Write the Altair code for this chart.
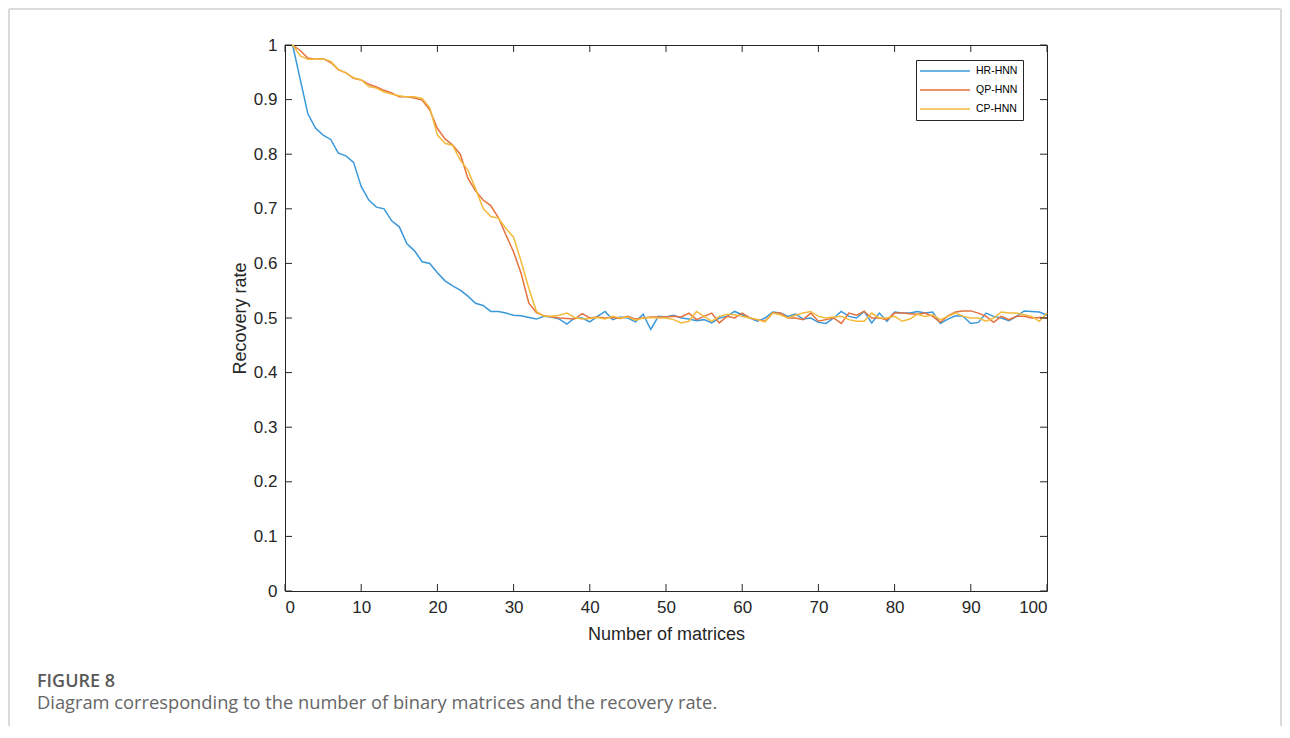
import altair as alt
import pandas as pd

# ---------------- data ----------------
x_vals = list(range(1, 101))

hr_hnn = [
    1.000, 0.937, 0.874, 0.848, 0.835, 0.827, 0.802, 0.797, 0.785, 0.741,
    0.716, 0.703, 0.700, 0.678, 0.667, 0.636, 0.623, 0.603, 0.600, 0.583,
    0.568, 0.559, 0.551, 0.540, 0.527, 0.523, 0.512, 0.512, 0.509, 0.505,
    0.504, 0.501, 0.498,
    0.503, 0.502, 0.498, 0.489, 0.500, 0.500, 0.493, 0.503, 0.512, 0.497,
    0.502, 0.500, 0.493, 0.507, 0.479, 0.503,
    0.502, 0.505, 0.500, 0.498, 0.495, 0.497, 0.491, 0.500, 0.503, 0.512,
    0.506, 0.500, 0.494, 0.500, 0.511, 0.509, 0.503,
    0.507, 0.498, 0.500, 0.492, 0.490, 0.500, 0.512, 0.503, 0.500, 0.512,
    0.491, 0.509, 0.494, 0.511, 0.509, 0.509,
    0.512, 0.509, 0.511, 0.490, 0.498, 0.504, 0.503, 0.490, 0.492, 0.509,
    0.503, 0.500, 0.495, 0.503, 0.513, 0.512, 0.511, 0.505,
]

qp_hnn = [
    1.000, 0.990, 0.976, 0.974, 0.975, 0.968, 0.955, 0.949, 0.939, 0.936,
    0.928, 0.923, 0.917, 0.912, 0.905, 0.905, 0.903, 0.899, 0.881, 0.847,
    0.828, 0.817, 0.800, 0.756, 0.733, 0.716, 0.706, 0.684, 0.652, 0.621,
    0.581, 0.527, 0.510,
    0.504, 0.502, 0.500, 0.499, 0.498, 0.508, 0.500, 0.502, 0.500, 0.501,
    0.499, 0.503, 0.498, 0.500, 0.502, 0.502,
    0.502, 0.503, 0.502, 0.509, 0.497, 0.503, 0.509, 0.491, 0.503, 0.500,
    0.509, 0.500, 0.497, 0.494, 0.509, 0.509, 0.500,
    0.500, 0.497, 0.509, 0.494, 0.497, 0.500, 0.490, 0.509, 0.505, 0.512,
    0.500, 0.500, 0.497, 0.509, 0.509, 0.508,
    0.507, 0.509, 0.503, 0.492, 0.504, 0.511, 0.513, 0.513, 0.509, 0.503,
    0.492, 0.503, 0.497, 0.503, 0.503, 0.500, 0.501, 0.500,
]

cp_hnn = [
    1.000, 0.980, 0.974, 0.974, 0.975, 0.970, 0.955, 0.949, 0.940, 0.936,
    0.924, 0.921, 0.914, 0.910, 0.907, 0.905, 0.905, 0.902, 0.885, 0.835,
    0.820, 0.816, 0.789, 0.771, 0.737, 0.701, 0.686, 0.683, 0.664, 0.648,
    0.603, 0.554, 0.512,
    0.503, 0.503, 0.505, 0.509, 0.501, 0.498, 0.499, 0.501, 0.498, 0.503,
    0.500, 0.502, 0.496, 0.500, 0.501, 0.500,
    0.500, 0.497, 0.491, 0.494, 0.512, 0.503, 0.494, 0.503, 0.507, 0.506,
    0.503, 0.500, 0.497, 0.493, 0.509, 0.506, 0.500,
    0.505, 0.509, 0.512, 0.503, 0.500, 0.502, 0.503, 0.497, 0.494, 0.494,
    0.509, 0.500, 0.500, 0.503, 0.494, 0.498,
    0.507, 0.503, 0.506, 0.497, 0.503, 0.509, 0.503, 0.500, 0.500, 0.494,
    0.500, 0.511, 0.509, 0.509, 0.506, 0.503, 0.494, 0.509,
]

series_names = ["HR-HNN", "QP-HNN", "CP-HNN"]
series_colors = ["#3A98DA", "#E5713C", "#F3BA3C"]

x_ticks = [0, 10, 20, 30, 40, 50, 60, 70, 80, 90, 100]
y_ticks = [0, 0.1, 0.2, 0.3, 0.4, 0.5, 0.6, 0.7, 0.8, 0.9, 1.0]

x_title = "Number of matrices"
y_title = "Recovery rate"
fig_label = "FIGURE 8"
fig_caption = "Diagram corresponding to the number of binary matrices and the recovery rate."

# ---------------- tables ----------------
rows = []
for name, vals in zip(series_names, [hr_hnn, qp_hnn, cp_hnn]):
    for xv, yv in zip(x_vals, vals):
        rows.append({"x": xv, "y": yv, "series": name, "order": series_names.index(name)})
df = pd.DataFrame(rows)
df_xt = pd.DataFrame({"v": x_ticks})
df_yt = pd.DataFrame({"v": y_ticks})

W, H = 762, 546
AX_FONT = "Liberation Sans"
AX_COLOR = "#262626"

sx = alt.Scale(domain=[0, 100], nice=False, zero=False)
sy = alt.Scale(domain=[0, 1], nice=False, zero=False)

ax_x = alt.Axis(values=x_ticks, format="d", title=x_title, grid=False, ticks=False,
                domain=False, labelPadding=8, titlePadding=10)
ax_y = alt.Axis(values=y_ticks, format=".1~f", title=y_title, grid=False, ticks=False,
                domain=False, labelPadding=8, titlePadding=4)

NBSP = "\u00a0"
lines = alt.Chart(df).mark_line(strokeWidth=1.5).encode(
    x=alt.X("x:Q", scale=sx, axis=ax_x),
    y=alt.Y("y:Q", scale=sy, axis=ax_y),
    color=alt.Color(
        "series:N",
        scale=alt.Scale(domain=series_names, range=series_colors),
        legend=alt.Legend(
            orient="none", legendX=631, legendY=15, title=None,
            symbolType="M-1.4,0H8.6", symbolSize=100, symbolStrokeWidth=1.5,
            labelFont=AX_FONT, labelFontSize=10.5, labelColor="#000000",
            labelExpr="datum.label + '" + NBSP * 3 + "'",
            strokeColor=AX_COLOR, fillColor="white", padding=5,
            rowPadding=7, labelOffset=43,
        ),
    ),
    detail="series:N",
    order="order:Q",
)

TL = 7
xt_bottom = alt.Chart(df_xt).mark_rule(color=AX_COLOR, strokeWidth=1).encode(
    x=alt.X("v:Q", scale=sx, axis=ax_x), y=alt.value(H), y2=alt.value(H - TL))
xt_top = alt.Chart(df_xt).mark_rule(color=AX_COLOR, strokeWidth=1).encode(
    x=alt.X("v:Q", scale=sx, axis=ax_x), y=alt.value(0), y2=alt.value(TL))
yt_left = alt.Chart(df_yt).mark_rule(color=AX_COLOR, strokeWidth=1).encode(
    y=alt.Y("v:Q", scale=sy, axis=ax_y), x=alt.value(0), x2=alt.value(TL))
yt_right = alt.Chart(df_yt).mark_rule(color=AX_COLOR, strokeWidth=1).encode(
    y=alt.Y("v:Q", scale=sy, axis=ax_y), x=alt.value(W), x2=alt.value(W - TL))

# figure frame (left, top, right edges) and caption
frame_color = "#cfcfcf"
one = alt.Data(values=[{"k": 1}])
frame_left = alt.Chart(one).mark_rule(color=frame_color, strokeWidth=1.5).encode(
    x=alt.value(-276), y=alt.value(-36), y2=alt.value(720))
frame_top = alt.Chart(one).mark_rule(color=frame_color, strokeWidth=1.5).encode(
    x=alt.value(-276), x2=alt.value(996), y=alt.value(-36))
frame_right = alt.Chart(one).mark_rule(color=frame_color, strokeWidth=1.5).encode(
    x=alt.value(996), y=alt.value(-36), y2=alt.value(720))

label_txt = alt.Chart(alt.Data(values=[{"t": fig_label}])).mark_text(
    align="left", baseline="middle", font="Open Sans", fontSize=18, fontWeight=600,
    color="#5a5a5a"
).encode(x=alt.value(-248), y=alt.value(637), text="t:N")
caption_txt = alt.Chart(alt.Data(values=[{"t": fig_caption}])).mark_text(
    align="left", baseline="middle", font="Open Sans", fontSize=18.3, fontWeight=400,
    color="#666666"
).encode(x=alt.value(-248), y=alt.value(659), text="t:N")

chart = alt.layer(
    frame_left, frame_top, frame_right,
    lines, xt_bottom, xt_top, yt_left, yt_right,
    label_txt, caption_txt,
).properties(
    width=W, height=H,
    autosize=alt.AutoSizeParams(type="none"),
    padding={"left": 277, "top": 37, "right": 235, "bottom": 135},
    background="white",
).configure_view(
    stroke=AX_COLOR, strokeWidth=1
).configure_axis(
    labelFont=AX_FONT, labelFontSize=17, labelColor=AX_COLOR,
    titleFont=AX_FONT, titleFontSize=18, titleFontWeight="normal", titleColor=AX_COLOR,
)

chart.save("out.html", embed_options={"renderer": "svg", "actions": False})
